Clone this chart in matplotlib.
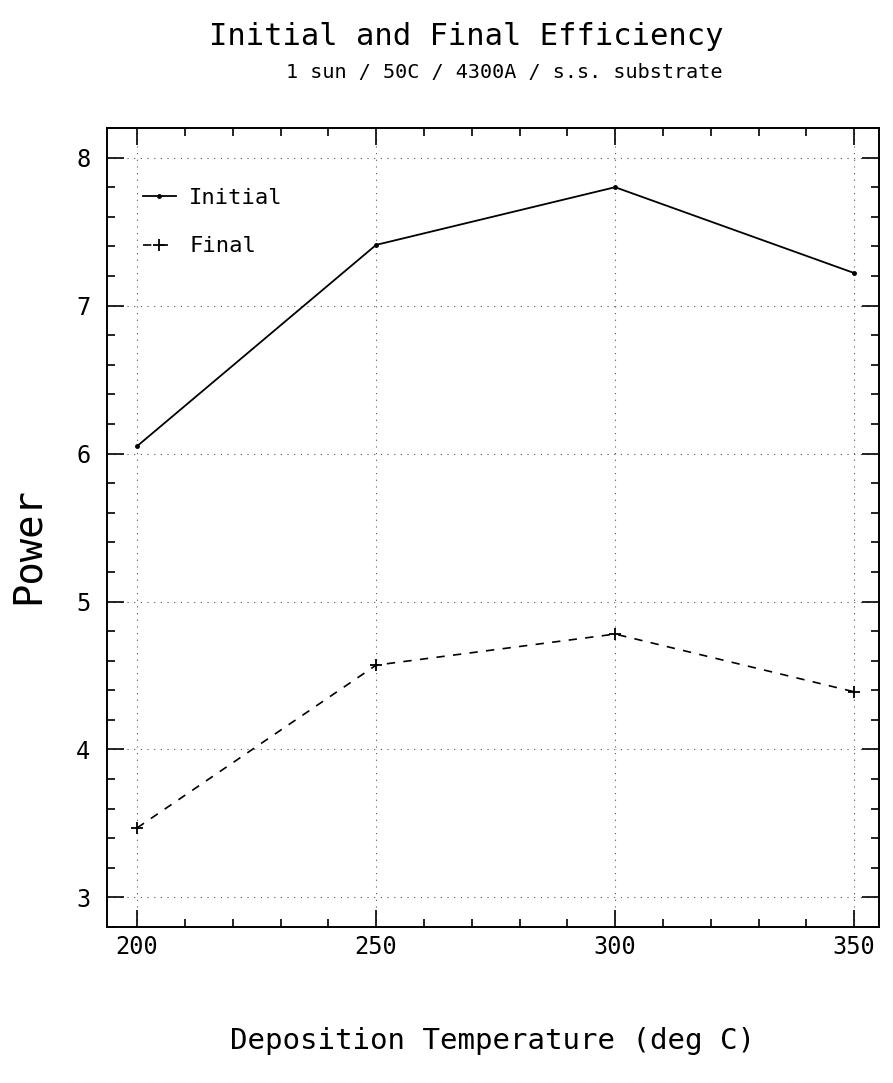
import matplotlib
matplotlib.use("Agg")
import matplotlib.pyplot as plt
from matplotlib.ticker import MultipleLocator

# Deposition temperatures (deg C) and measured power
temperatures = [200, 250, 300, 350]
initial_power = [6.05, 7.41, 7.80, 7.22]
final_power = [3.47, 4.57, 4.78, 4.39]

x_ticks = [200, 250, 300, 350]
y_ticks = [3, 4, 5, 6, 7, 8]

FONT = "DejaVu Sans Mono"
plt.rcParams["font.family"] = [FONT]

fig = plt.figure(figsize=(8.93, 10.83), dpi=100)
ax = fig.add_axes([0.1198, 0.1440, 0.8645, 0.7378])

ax.plot(temperatures, initial_power, color="black", linestyle="-", linewidth=1.3,
        marker=".", markersize=5, label="Initial")
ax.plot(temperatures, final_power, color="black", linestyle=(0, (5, 5)), linewidth=1.2,
        marker="+", markersize=9, markeredgewidth=1.3, label="Final")

ax.set_xlim(193.7, 355.2)
ax.set_ylim(2.80, 8.20)
ax.set_xticks(x_ticks)
ax.set_yticks(y_ticks)
ax.xaxis.set_minor_locator(MultipleLocator(10))
ax.yaxis.set_minor_locator(MultipleLocator(0.2))

ax.tick_params(which="both", direction="in", top=True, right=True, width=1.2)
ax.tick_params(axis="x", which="major", pad=6, labelsize=17, length=12)
ax.tick_params(axis="y", which="major", pad=12, labelsize=17, length=12)
ax.tick_params(which="minor", length=6)

for spine in ax.spines.values():
    spine.set_linewidth(1.4)

ax.grid(True, which="major", color="#555555", linestyle=(0, (1, 5)), linewidth=0.8)

ax.set_xlabel("Deposition Temperature (deg C)", fontsize=21)
ax.xaxis.set_label_coords(0.5, -0.125)
ax.set_ylabel("Power", fontsize=28)
ax.yaxis.set_label_coords(-0.078, 0.478)

leg = ax.legend(loc="upper left", bbox_to_anchor=(0.0, 0.97), frameon=False,
                prop={"size": 16}, handlelength=1.5,
                handletextpad=0.6, labelspacing=1.3, borderaxespad=1.2)

fig.text(0.522, 0.966, "Initial and Final Efficiency", ha="center", va="center",
         fontsize=22)
fig.text(0.565, 0.933, "1 sun / 50C / 4300A / s.s. substrate", ha="center",
         va="center", fontsize=14.5)

fig.savefig("out.png", dpi=100, facecolor="white")
